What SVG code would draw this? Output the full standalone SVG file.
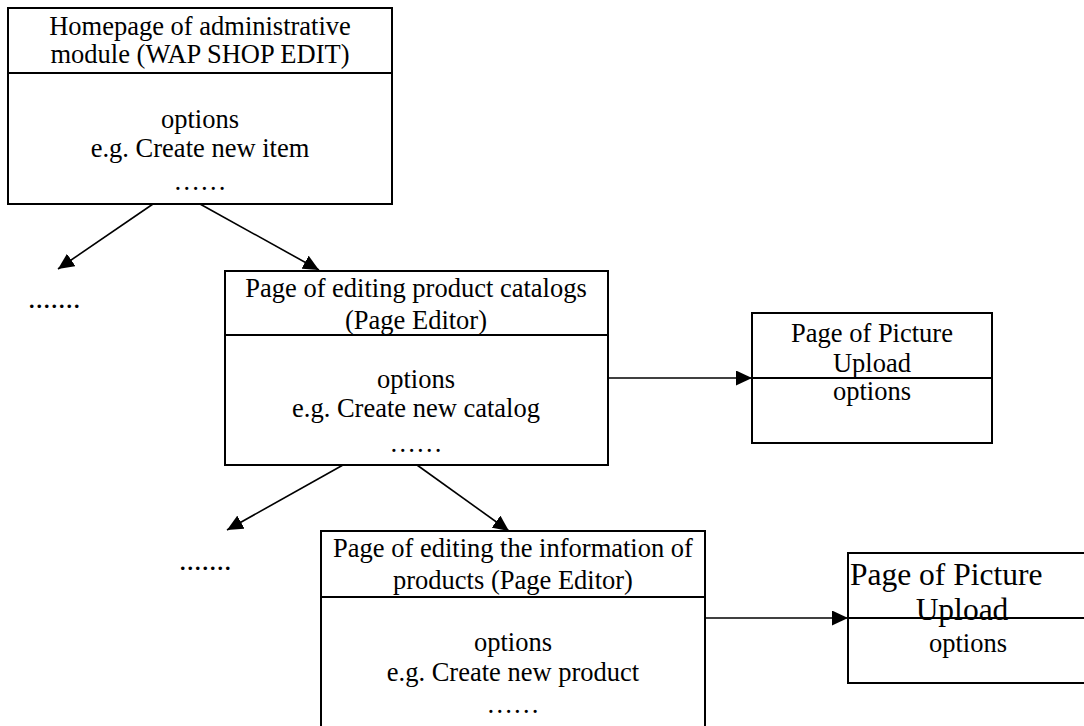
<svg xmlns="http://www.w3.org/2000/svg" width="1084" height="726" viewBox="0 0 1084 726">
<defs>
<style>
.box{fill:#fff;stroke:#000;stroke-width:2}
.div{stroke:#000;stroke-width:2}
.t{font-family:"Liberation Serif","Times New Roman",serif;font-size:26.5px;fill:#000;text-anchor:middle}
.big{font-size:31.5px}
.dots{font-size:30px}
.s{text-anchor:start}
.c{stroke:#000;stroke-width:1.6;fill:none;marker-end:url(#ah)}
</style>
<marker id="ah" markerUnits="userSpaceOnUse" markerWidth="17" markerHeight="15" refX="16" refY="7.5" orient="auto">
<path d="M0,0 L16,7.5 L0,15 z" fill="#000"/>
</marker>
</defs>
<rect width="1084" height="726" fill="#fff"/>
<g id="connectors">
<line class="c" x1="153" y1="204" x2="58" y2="269"/>
<line class="c" x1="200" y1="204" x2="319" y2="270"/>
<line class="c" x1="608" y1="378" x2="752" y2="378"/>
<line class="c" x1="343" y1="465" x2="227" y2="530"/>
<line class="c" x1="417" y1="465" x2="509" y2="531"/>
<line class="c" x1="705" y1="618" x2="848" y2="618"/>
</g>
<g id="home">
<rect class="box" x="8" y="8" width="384" height="196"/>
<line class="div" x1="8" y1="73" x2="392" y2="73"/>
<text class="t" x="200" y="35">Homepage of administrative</text>
<text class="t" x="200" y="63">module (WAP SHOP EDIT)</text>
<text class="t" x="200" y="128">options</text>
<text class="t" x="200" y="157">e.g. Create new item</text>
<text class="t" x="200" y="190">……</text>
</g>
<g id="more1">
<text class="t dots s" x="28" y="308">.......</text>
</g>
<g id="catalogs">
<rect class="box" x="225" y="271" width="383" height="194"/>
<line class="div" x1="225" y1="335" x2="608" y2="335"/>
<text class="t" x="416" y="297">Page of editing product catalogs</text>
<text class="t" x="416" y="329">(Page Editor)</text>
<text class="t" x="416" y="388">options</text>
<text class="t" x="416" y="417">e.g. Create new catalog</text>
<text class="t" x="416" y="452">……</text>
</g>
<g id="upload1">
<rect class="box" x="752" y="313" width="240" height="130"/>
<line class="div" x1="752" y1="378" x2="992" y2="378"/>
<text class="t" x="872" y="342">Page of Picture</text>
<text class="t" x="872" y="372">Upload</text>
<text class="t" x="872" y="400">options</text>
</g>
<g id="more2">
<text class="t dots s" x="179" y="570">.......</text>
</g>
<g id="products">
<rect class="box" x="321" y="531" width="384" height="198"/>
<line class="div" x1="321" y1="597" x2="705" y2="597"/>
<text class="t" x="513" y="557">Page of editing the information of</text>
<text class="t" x="513" y="589">products (Page Editor)</text>
<text class="t" x="513" y="651">options</text>
<text class="t" x="513" y="681">e.g. Create new product</text>
<text class="t" x="513" y="713">……</text>
</g>
<g id="upload2">
<rect class="box" x="848" y="553" width="242" height="130"/>
<text class="t big s" x="850" y="585">Page of Picture</text>
<text class="t big" x="962" y="620">Upload</text>
<line class="div" x1="848" y1="618" x2="1090" y2="618"/>
<text class="t" x="968" y="652">options</text>
</g>
</svg>
